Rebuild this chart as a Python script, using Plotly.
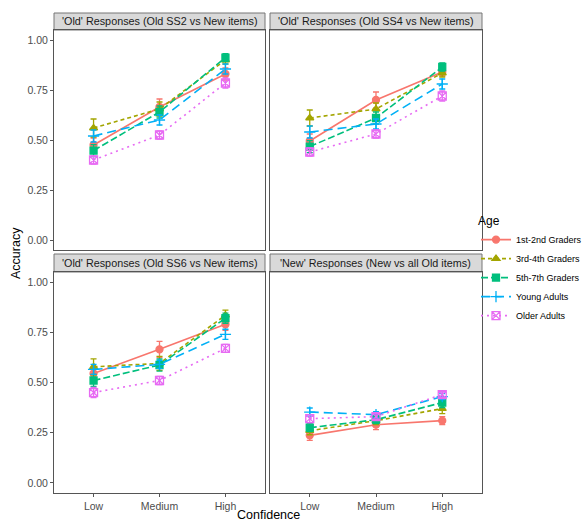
import plotly.graph_objects as go

confidence = ["Low", "Medium", "High"]
groups = ["1st-2nd Graders", "3rd-4th Graders", "5th-7th Graders", "Young Adults", "Older Adults"]
panel_titles = [
    "'Old' Responses (Old SS2 vs New items)",
    "'Old' Responses (Old SS4 vs New items)",
    "'Old' Responses (Old SS6 vs New items)",
    "'New' Responses (New vs all Old items)",
]

# accuracy per panel, per group (Low, Medium, High)
ss2 = {
    "1st-2nd Graders": [0.475, 0.665, 0.83],
    "3rd-4th Graders": [0.56, 0.655, 0.90],
    "5th-7th Graders": [0.447, 0.64, 0.912],
    "Young Adults":    [0.52, 0.60, 0.855],
    "Older Adults":    [0.40, 0.525, 0.785],
}
ss4 = {
    "1st-2nd Graders": [0.495, 0.70, 0.84],
    "3rd-4th Graders": [0.61, 0.655, 0.835],
    "5th-7th Graders": [0.467, 0.61, 0.865],
    "Young Adults":    [0.54, 0.58, 0.78],
    "Older Adults":    [0.44, 0.53, 0.72],
}
ss6 = {
    "1st-2nd Graders": [0.545, 0.665, 0.79],
    "3rd-4th Graders": [0.578, 0.595, 0.835],
    "5th-7th Graders": [0.51, 0.587, 0.82],
    "Young Adults":    [0.565, 0.59, 0.74],
    "Older Adults":    [0.45, 0.51, 0.67],
}
new = {
    "1st-2nd Graders": [0.237, 0.29, 0.31],
    "3rd-4th Graders": [0.26, 0.31, 0.37],
    "5th-7th Graders": [0.275, 0.315, 0.40],
    "Young Adults":    [0.353, 0.34, 0.43],
    "Older Adults":    [0.32, 0.33, 0.44],
}
# standard errors
err_ss2 = {
    "1st-2nd Graders": [0.035, 0.04, 0.03],
    "3rd-4th Graders": [0.045, 0.035, 0.02],
    "5th-7th Graders": [0.03, 0.03, 0.02],
    "Young Adults":    [0.03, 0.025, 0.025],
    "Older Adults":    [0.02, 0.02, 0.025],
}
err_ss4 = {
    "1st-2nd Graders": [0.035, 0.04, 0.02],
    "3rd-4th Graders": [0.04, 0.03, 0.02],
    "5th-7th Graders": [0.03, 0.03, 0.02],
    "Young Adults":    [0.03, 0.025, 0.025],
    "Older Adults":    [0.02, 0.02, 0.025],
}
err_ss6 = {
    "1st-2nd Graders": [0.035, 0.04, 0.03],
    "3rd-4th Graders": [0.04, 0.035, 0.025],
    "5th-7th Graders": [0.03, 0.03, 0.025],
    "Young Adults":    [0.025, 0.02, 0.025],
    "Older Adults":    [0.025, 0.02, 0.02],
}
err_new = {
    "1st-2nd Graders": [0.025, 0.025, 0.02],
    "3rd-4th Graders": [0.02, 0.02, 0.025],
    "5th-7th Graders": [0.02, 0.02, 0.025],
    "Young Adults":    [0.02, 0.015, 0.015],
    "Older Adults":    [0.02, 0.015, 0.015],
}
panels = [(ss2, err_ss2), (ss4, err_ss4), (ss6, err_ss6), (new, err_new)]

colors = ["#F8766D", "#A3A500", "#00BF7D", "#00B0F6", "#E76BF3"]
symbols = ["circle", "triangle-up", "square", "cross-thin-open", "square-x-open"]
dashes = ["solid", "4px,3px", "7px,3px", "9px,5px", "2px,4px"]

fig = go.Figure()

L, R, T, B = 54, 103, 13, 28
W, H = 585, 521
pw = W - L - R
ph = H - T - B
x_domains = [[0, 211 / pw], [216 / pw, 1]]
top_plot = [(493 - 250) / ph, (493 - 30) / ph]
bot_plot = [0, (493 - 272) / ph]
top_strip = [(493 - 30) / ph, 1]
bot_strip = [(493 - 272) / ph, (493 - 254) / ph]
y_domains = [top_plot, top_plot, bot_plot, bot_plot]
strip_domains = [top_strip, top_strip, bot_strip, bot_strip]
xdoms = [x_domains[0], x_domains[1], x_domains[0], x_domains[1]]

for p, (vals, errs) in enumerate(panels):
    ax = "" if p == 0 else str(p + 1)
    for g, name in enumerate(groups):
        fig.add_trace(go.Scatter(
            x=confidence, y=vals[name],
            error_y=dict(type="data", array=errs[name], color=colors[g], thickness=1.3, width=3),
            mode="lines+markers",
            name=name, legendgroup=name, showlegend=(p == 0),
            line=dict(color=colors[g], width=1.6, dash=dashes[g]),
            marker=dict(color=colors[g], symbol=symbols[g], size=7 if g < 3 else 8,
                        line=dict(color=colors[g], width=1.3)),
            xaxis="x" + ax, yaxis="y" + ax,
        ))

axis_line = "#555555"
for p in range(4):
    ax = "" if p == 0 else str(p + 1)
    bottom = p >= 2
    left = p % 2 == 0
    fig.update_layout(**{
        "xaxis" + ax: dict(
            domain=xdoms[p], anchor="y" + ax, type="category",
            categoryorder="array", categoryarray=confidence,
            range=[-0.6, 2.6], showgrid=False, zeroline=False,
            showline=True, mirror=True, linecolor=axis_line, linewidth=1,
            ticks="outside" if bottom else "", ticklen=3, tickcolor="#555555",
            showticklabels=bottom, tickfont=dict(size=10.5, color="#4d4d4d"),
        ),
        "yaxis" + ax: dict(
            domain=y_domains[p], anchor="x" + ax,
            range=[-0.05, 1.05], tickvals=[0, 0.25, 0.5, 0.75, 1.0],
            ticktext=["0.00", "0.25", "0.50", "0.75", "1.00"],
            showgrid=False, zeroline=False,
            showline=True, mirror=True, linecolor=axis_line, linewidth=1,
            ticks="outside" if left else "", ticklen=3, tickcolor="#555555",
            showticklabels=left, tickfont=dict(size=10.5, color="#4d4d4d"),
        ),
    })
    # strip
    fig.add_shape(type="rect", xref="paper", yref="paper",
                  x0=xdoms[p][0], x1=xdoms[p][1],
                  y0=strip_domains[p][0], y1=strip_domains[p][1],
                  fillcolor="#D9D9D9", line=dict(color="#777777", width=1), layer="below")
    fig.add_annotation(x=(xdoms[p][0] + xdoms[p][1]) / 2,
                       y=(strip_domains[p][0] + strip_domains[p][1]) / 2,
                       xref="paper", yref="paper", text=panel_titles[p], showarrow=False,
                       font=dict(size=10.8, color="#1a1a1a"), xanchor="center", yanchor="middle")

fig.add_annotation(x=-38 / pw, y=0.5, xref="paper", yref="paper", text="Accuracy",
                   textangle=-90, showarrow=False, font=dict(size=12.5, color="black"),
                   xanchor="center", yanchor="middle")
fig.add_annotation(x=0.5, y=-22 / ph, xref="paper", yref="paper", text="Confidence",
                   showarrow=False, font=dict(size=12.5, color="black"),
                   xanchor="center", yanchor="middle")

fig.update_layout(
    width=W, height=H,
    margin=dict(l=L, r=R, t=T, b=B, autoexpand=False),
    paper_bgcolor="white", plot_bgcolor="white",
    font=dict(family="Liberation Sans, Arial, sans-serif"),
    legend=dict(
        title=dict(text="Age", font=dict(size=12, color="black")),
        x=(476 - L) / pw, xanchor="left", y=(493 - 270) / ph, yanchor="middle",
        font=dict(size=9, color="black"),
        itemwidth=30, tracegroupgap=0, bgcolor="rgba(0,0,0,0)",
    ),
)

fig.write_html("out.html", config={"displayModeBar": False},
               post_script="document.body.style.margin='0px';")
